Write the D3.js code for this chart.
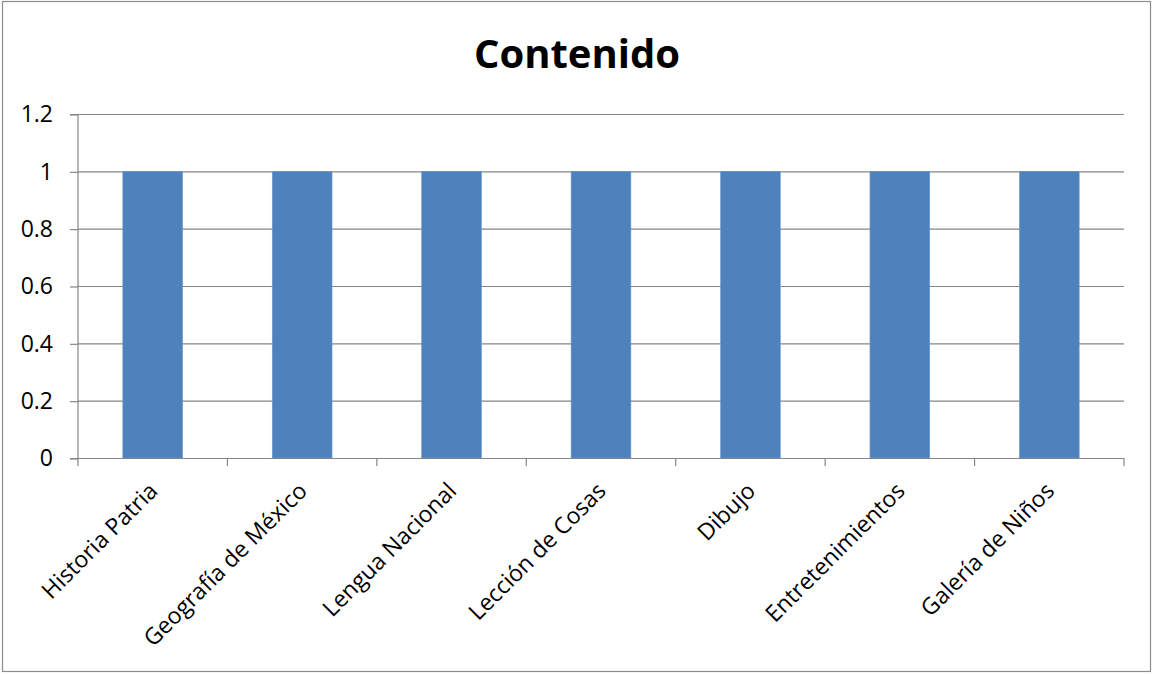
<!DOCTYPE html>
<html><head><meta charset="utf-8">
<script src="https://cdn.jsdelivr.net/npm/d3@7"></script>
<style>body{margin:0;background:#fff}svg{display:block}text{font-family:"Open Sans",Lato,sans-serif}</style>
</head><body>
<svg id="c" width="1153" height="674"></svg>
<script>
const categories = ["Historia Patria","Geografía de México","Lengua Nacional","Lección de Cosas","Dibujo","Entretenimientos","Galería de Niños"];
const values = [1,1,1,1,1,1,1];
const yTicks = [0,0.2,0.4,0.6,0.8,1,1.2];
const yTickLabels = ["0","0.2","0.4","0.6","0.8","1","1.2"];

const svg = d3.select("#c");
svg.append("rect").attr("x",2.5).attr("y",1.5).attr("width",1148).attr("height",670)
  .attr("fill","#fff").attr("stroke","#8c8c8c").attr("stroke-width",1.2);

const L=78, R=1124, T=114, B=458;
const x = d3.scaleBand().domain(categories).range([L,R]).padding(0);
const y = d3.scaleLinear().domain([0,1.2]).range([B,T]);

svg.append("text").attr("x",577).attr("y",68).attr("text-anchor","middle")
  .attr("font-size",40).attr("font-weight","bold").attr("fill","#000").text("Contenido");

// gridlines
svg.append("g").selectAll("line").data(yTicks.filter(d=>d>0)).join("line")
  .attr("x1",L).attr("x2",R).attr("y1",d=>y(d)+0.5).attr("y2",d=>y(d)+0.5)
  .attr("stroke","#868686").attr("stroke-width",1.2);

// bars
const bw = x.bandwidth()*0.4;
svg.append("g").selectAll("rect").data(categories).join("rect")
  .attr("x",d=>x(d)+x.bandwidth()/2-bw/2).attr("width",bw)
  .attr("y",(d,i)=>y(values[i])).attr("height",(d,i)=>B-y(values[i]))
  .attr("fill","#4f81bd").attr("stroke","#6e9ad0").attr("stroke-width",0.6);

// y axis
const ya = d3.axisLeft(y).tickValues(yTicks).tickFormat((d,i)=>yTickLabels[i]).tickSize(8).tickPadding(17);
const gy = svg.append("g").attr("transform",`translate(${L},0.5)`).call(ya);
gy.select(".domain").attr("stroke","#868686").attr("stroke-width",1.2).attr("d",`M-8,${T}H0V${B}H-8`);
gy.selectAll(".tick line").attr("stroke","#868686").attr("stroke-width",1.2);
gy.selectAll(".tick text").attr("font-size",23).attr("fill","#000").attr("font-family","'Open Sans', sans-serif");

// x axis
svg.append("line").attr("x1",L).attr("x2",R).attr("y1",B+0.5).attr("y2",B+0.5).attr("stroke","#868686").attr("stroke-width",1.2);
const bounds = categories.map(d=>x(d)).concat([R]);
svg.append("g").selectAll("line").data(bounds).join("line")
  .attr("x1",d=>d).attr("x2",d=>d).attr("y1",B).attr("y2",B+8)
  .attr("stroke","#868686").attr("stroke-width",1.2);

svg.append("g").selectAll("text").data(categories).join("text")
  .attr("transform",d=>`translate(${x(d)+x.bandwidth()/2},${B+28}) rotate(-45)`)
  .attr("text-anchor","end").attr("dominant-baseline","central")
  .attr("font-size",23).attr("fill","#000").text(d=>d);
</script>
</body></html>
